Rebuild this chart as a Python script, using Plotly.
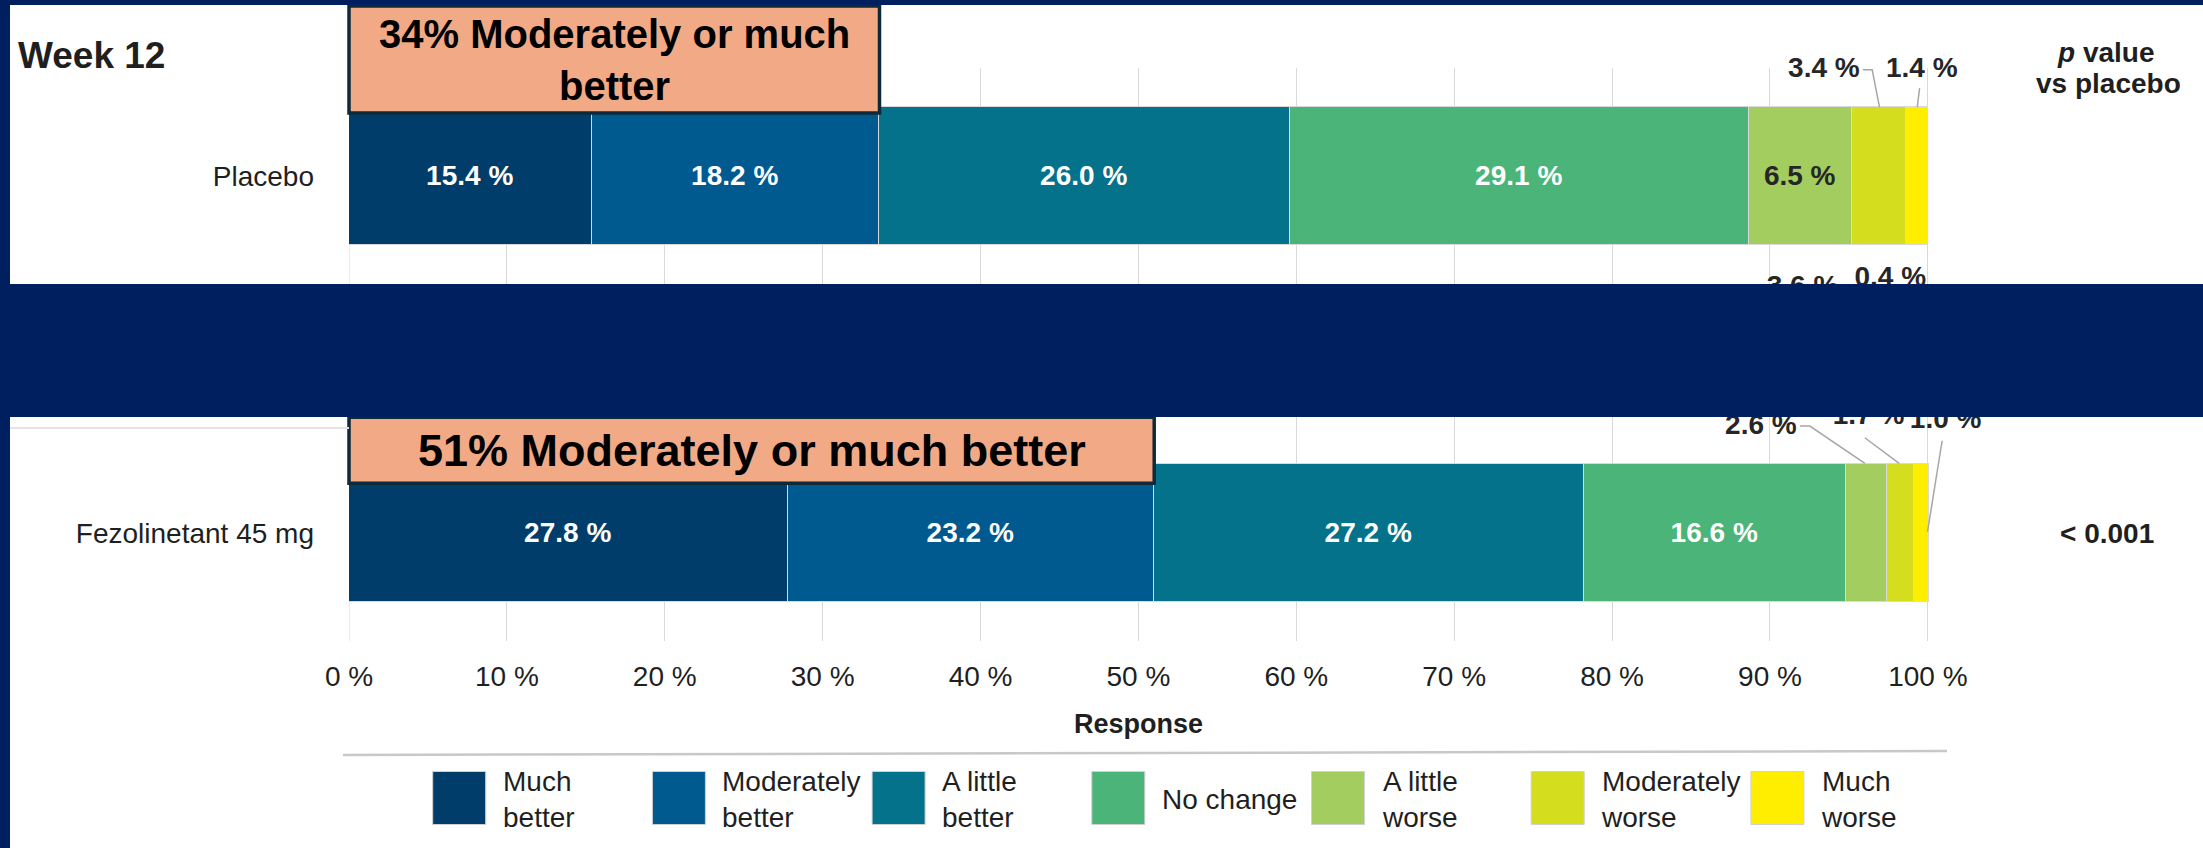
import plotly.graph_objects as go

# ---------------- data ----------------
rows = ["Fezolinetant 45 mg", "Placebo"]
responses = ["Much better", "Moderately better", "A little better", "No change",
             "A little worse", "Moderately worse", "Much worse"]
legend_labels = ["Much<br>better", "Moderately<br>better", "A little<br>better", "No change",
                 "A little<br>worse", "Moderately<br>worse", "Much<br>worse"]
placebo = [15.4, 18.2, 26.0, 29.1, 6.5, 3.4, 1.4]
fezolinetant_45 = [27.8, 23.2, 27.2, 16.6, 2.6, 1.7, 1.0]
p_values = ["< 0.001", ""]
callout_text = ["51% Moderately or much better", "34% Moderately or much<br>better"]
hidden_row_labels = [3.6, 0.4]          # labels of the row hidden behind the banner
x_tick_values = [0, 10, 20, 30, 40, 50, 60, 70, 80, 90, 100]
x_tick_labels = ["0 %", "10 %", "20 %", "30 %", "40 %", "50 %", "60 %", "70 %", "80 %", "90 %", "100 %"]

values_by_row = [fezolinetant_45, placebo]

# ---------------- style ----------------
colors = ["#003D6B", "#00598F", "#03728A", "#4BB478", "#A3CD5E", "#D5DD1F", "#FFEE00"]
inside_text_colors = ["white", "white", "white", "white", "#262626", "#262626", "#262626"]
FONT = "Liberation Sans, Arial, sans-serif"
TXT = "#1F1F1F"
NAVY = "#001F5F"
GRID = "#D9D9D9"

W, H = 2203, 848
SCALE = 15.79            # px per percent
XMAX = 104
L, T, B = 349, 68, 207
PW = round(SCALE * XMAX)
R = W - L - PW
PH = H - T - B
YR = [-0.302, 1.302]
BAR_W = 0.385
YSPAN = YR[1] - YR[0]


def paper_x(px):
    return (px - L) / PW


def paper_y(py):
    return 1 - (py - T) / PH


def dx_data(dpx):
    return dpx / PW * XMAX


def dy_data(dpy):
    return -dpy / PH * YSPAN


def py_to_y(py):
    return YR[1] - (py - T) / PH * YSPAN


def px_to_x(px):
    return (px - L) / PW * XMAX


def xdata_to_paper(x):
    return x / XMAX


def ydata_to_paper(y):
    return (y - YR[0]) / YSPAN


fig = go.Figure()

# stacked bars
for i, resp in enumerate(responses):
    vals = [values_by_row[r][i] for r in range(len(rows))]
    txt = [f"<b>{v:.1f} %</b>" if v >= 5 else "" for v in vals]
    fig.add_trace(go.Bar(
        y=rows, x=vals, orientation="h", name=resp, width=BAR_W,
        marker=dict(color=colors[i], line=dict(color=GRID, width=1.5)),
        text=txt, textposition="inside", insidetextanchor="middle", textangle=0,
        constraintext="none",
        insidetextfont=dict(family=FONT, size=28, color=inside_text_colors[i]),
        hoverinfo="skip", showlegend=False,
    ))

# outside labels for small segments: (label offset, leader points) in px,
# relative to (segment centre, bar top)
outside_layout = {
    (1, 5): ((-55, -37.3), [(-16, -37.3), (-6.7, -37.3), (0.6, 0)]),
    (1, 6): ((5, -37.3), [(2.8, -19), (0.5, 0)]),
    (0, 4): ((-105.4, -37.6), [(-66.4, -38.3), (-56.4, -38.3), (-1.4, -1)]),
    (0, 5): ((-31.7, -47.6), [(-35.4, -26.6), (-1.1, -1)]),
    (0, 6): ((24.1, -43.6), [(20.6, -23.6), (6, 67.4)]),
}
lab_x, lab_y, lab_t = [], [], []
for (r, i), (loff, leader) in outside_layout.items():
    vals = values_by_row[r]
    cx = sum(vals[:i]) + vals[i] / 2
    top = r + BAR_W / 2
    lab_x.append(cx + dx_data(loff[0]))
    lab_y.append(top + dy_data(loff[1]))
    lab_t.append(f"<b>{vals[i]:.1f} %</b>")
    fig.add_trace(go.Scatter(
        x=[cx + dx_data(p[0]) for p in leader], y=[top + dy_data(p[1]) for p in leader],
        mode="lines", line=dict(color="#A6A6A6", width=1.5),
        hoverinfo="skip", showlegend=False, yaxis="y2",
    ))

# partially visible labels of the hidden row
hidden_pos = [(1802.5, 287.7), (1890.3, 279.3)]
for v, (px, py) in zip(hidden_row_labels, hidden_pos):
    lab_x.append(px_to_x(px))
    lab_y.append(py_to_y(py))
    lab_t.append(f"<b>{v:.1f} %</b>")

fig.add_trace(go.Scatter(
    x=lab_x, y=lab_y, text=lab_t, mode="text", textposition="middle center",
    textfont=dict(family=FONT, size=28, color="#262626"),
    cliponaxis=False, hoverinfo="skip", showlegend=False, yaxis="y2",
))

shapes = []
annotations = []

# 0 % grid line
shapes.append(dict(type="line", xref="x", yref="paper", x0=0, x1=0, y0=0, y1=1,
                   line=dict(color=GRID, width=1), layer="below"))

# callout boxes
callout_px = {0: (19, 66), 1: (6, 107)}   # (overlap with bar, height)
callout_font = {0: 45, 1: 40}
for r in range(len(rows)):
    cum2 = sum(values_by_row[r][:2])
    top = r + BAR_W / 2
    ov, h = callout_px[r]
    y0 = top + dy_data(ov)
    y1 = y0 + dy_data(-h)
    shapes.append(dict(type="rect", xref="paper", yref="paper",
                       x0=xdata_to_paper(0), x1=xdata_to_paper(cum2),
                       y0=ydata_to_paper(y0), y1=ydata_to_paper(y1),
                       fillcolor="#F1AA85", line=dict(color="#0E2A3A", width=3.5), layer="above"))
    annotations.append(dict(xref="paper", yref="paper", x=xdata_to_paper(cum2 / 2),
                            y=ydata_to_paper((y0 + y1) / 2),
                            text=f"<b>{callout_text[r]}</b>", showarrow=False,
                            xanchor="center", yanchor="middle",
                            font=dict(family=FONT, size=callout_font[r], color="black")))

# light grey line left of banner
shapes.append(dict(type="line", xref="paper", yref="paper", x0=paper_x(10), x1=paper_x(349),
                   y0=paper_y(428), y1=paper_y(428), line=dict(color="#E3E3E3", width=2), layer="above"))
# navy frame / banner
shapes.append(dict(type="rect", xref="paper", yref="paper", x0=paper_x(0), x1=paper_x(W),
                   y0=paper_y(417), y1=paper_y(284), fillcolor=NAVY, line=dict(width=0), layer="above"))
shapes.append(dict(type="rect", xref="paper", yref="paper", x0=paper_x(0), x1=paper_x(W),
                   y0=paper_y(5), y1=paper_y(0), fillcolor=NAVY, line=dict(width=0), layer="above"))
shapes.append(dict(type="rect", xref="paper", yref="paper", x0=paper_x(0), x1=paper_x(10),
                   y0=paper_y(H), y1=paper_y(0), fillcolor=NAVY, line=dict(width=0), layer="above"))

# separator line above legend
shapes.append(dict(type="line", xref="paper", yref="paper", x0=paper_x(343), x1=paper_x(1947),
                   y0=paper_y(755), y1=paper_y(751), line=dict(color="#C8C8C8", width=2.5)))

# legend (custom, large swatches)
for i, lab in enumerate(legend_labels):
    x0 = 432.7 + i * 219.7
    shapes.append(dict(type="rect", xref="paper", yref="paper", x0=paper_x(x0), x1=paper_x(x0 + 53),
                       y0=paper_y(824.5), y1=paper_y(771.5), fillcolor=colors[i],
                       line=dict(color="#D0D0D0", width=1)))
    annotations.append(dict(xref="paper", yref="paper", x=paper_x(x0 + 68), y=paper_y(799),
                            text=lab, showarrow=False, xanchor="left", yanchor="middle", align="left",
                            font=dict(family=FONT, size=28, color=TXT)))

# Week 12 title
annotations.append(dict(xref="paper", yref="paper", x=paper_x(16), y=paper_y(55), text="<b>Week 12</b>",
                        showarrow=False, xanchor="left", yanchor="middle",
                        font=dict(family=FONT, size=37, color=TXT)))
# p value column
annotations.append(dict(xref="paper", yref="paper", x=paper_x(2106), y=paper_y(52),
                        text="<b><i>p</i> value</b>", showarrow=False, xanchor="center", yanchor="middle",
                        font=dict(family=FONT, size=28, color=TXT)))
annotations.append(dict(xref="paper", yref="paper", x=paper_x(2108), y=paper_y(84),
                        text="<b>vs placebo</b>", showarrow=False, xanchor="center", yanchor="middle",
                        font=dict(family=FONT, size=28, color=TXT)))
for r, pv in enumerate(p_values):
    if pv:
        annotations.append(dict(xref="paper", yref="y", x=paper_x(2107), y=rows[r],
                                text="<b>" + pv.replace("<", "&lt;") + "</b>", showarrow=False,
                                xanchor="center", yanchor="middle",
                                font=dict(family=FONT, size=28, color=TXT)))

# axis title (centred under the 0-100 % span)
annotations.append(dict(xref="x", yref="paper", x=50, y=paper_y(724), text="<b>Response</b>",
                        showarrow=False, xanchor="center", yanchor="middle",
                        font=dict(family=FONT, size=27, color=TXT)))

fig.update_layout(
    width=W, height=H, autosize=False,
    margin=dict(l=L, r=R, t=T, b=B, pad=0),
    paper_bgcolor="white", plot_bgcolor="white",
    barmode="stack", bargap=0,
    font=dict(family=FONT, color=TXT),
    shapes=shapes, annotations=annotations,
    xaxis=dict(range=[0, XMAX], tickmode="array", tickvals=x_tick_values, ticktext=x_tick_labels,
               showgrid=True, gridcolor=GRID, gridwidth=1, zeroline=False, showline=False,
               ticks="", ticklabelstandoff=16,
               tickfont=dict(family=FONT, size=28, color=TXT)),
    yaxis=dict(type="category", categoryorder="array", categoryarray=rows, range=YR,
               showgrid=False, zeroline=False, showline=False, ticks="",
               ticklabelstandoff=34, tickfont=dict(family=FONT, size=28, color=TXT)),
    yaxis2=dict(range=YR, overlaying="y", visible=False, showgrid=False, zeroline=False),
)

fig.write_html("out.html", config={"displayModeBar": False})
